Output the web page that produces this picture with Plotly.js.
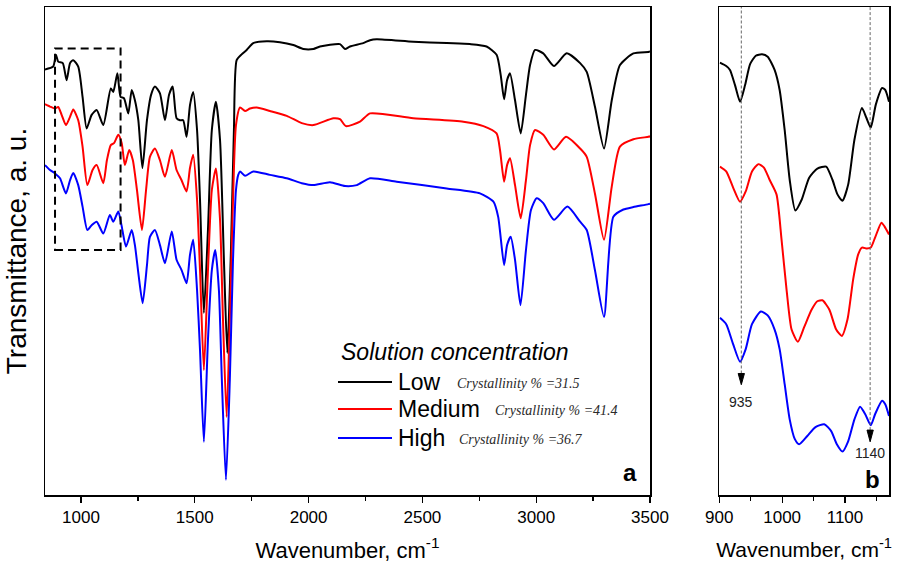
<!DOCTYPE html>
<html>
<head>
<meta charset="utf-8">
<script src="https://cdn.plot.ly/plotly-3.0.1.min.js"></script>
<style>html,body{margin:0;padding:0;background:#fff;}#chart{width:903px;height:577px;}</style>
</head>
<body>
<div id="chart"></div>
<script>
// ---- Panel a: full spectra (wavenumber, cm-1 / transmittance, a.u.) ----
const lowX = [842,878,890,900,920,937,952,966,988,1007,1025,1047,1069,1098,1131,1142,1160,1174,1189,1208,1223,1237,1252,1270,1290,1308,1325,1347,1369,1387,1403,1420,1435,1449,1464,1479,1493,1510,1523,1540,1558,1575,1593,1611,1628,1643,1659,1672,1684,1706,1728,1757,1816,1874,1933,1977,2021,2050,2138,2160,2182,2240,2270,2299,2460,2607,2709,2782,2826,2844,2859,2872,2885,2907,2932,2955,2973,2995,3031,3078,3134,3193,3222,3258,3298,3332,3368,3427,3493,3500];
const lowY = [87.2,87.8,90.2,88.8,88.5,85.0,88.5,89.1,87.8,81.6,75.1,77.9,78.9,75.8,83.3,82.6,86.4,81.6,81.3,78.2,83.0,80.9,76.8,67.0,76.8,82.0,83.7,82.3,76.8,82.0,83.7,77.2,76.8,76.8,73.4,79.9,82.6,74.8,60.5,37.3,54.3,74.8,80.6,72.7,48.2,29.1,50.2,74.8,89.1,90.3,91.2,92.6,93.0,92.8,92.2,91.4,91.4,91.9,92.4,91.4,91.9,92.6,93.2,93.4,92.9,92.6,92.4,91.9,90.2,86.1,81.1,85.0,86.4,80.9,74.1,82.0,88.1,91.2,90.5,87.9,90.5,88.5,86.7,79.6,71.0,80.9,88.1,90.5,90.8,90.9];

const medX = [842,864,886,900,915,934,952,966,988,1007,1028,1051,1069,1098,1114,1131,1145,1164,1179,1193,1212,1228,1246,1268,1286,1303,1325,1347,1369,1399,1420,1442,1464,1479,1493,1510,1523,1540,1558,1575,1593,1611,1624,1640,1654,1668,1681,1699,1721,1743,1772,1830,1904,1970,2021,2109,2138,2164,2226,2270,2460,2680,2768,2826,2841,2859,2872,2885,2907,2932,2955,2973,2995,3031,3078,3131,3193,3222,3258,3298,3332,3368,3427,3493,3500];
const medY = [80.1,79.6,79.2,79.5,77.9,75.8,77.5,79.0,76.8,71.4,63.5,66.6,67.6,63.9,68.6,71.7,72.1,73.8,72.1,67.6,70.7,68.6,62.5,54.3,62.5,69.3,71.0,68.6,65.2,70.7,66.6,64.5,62.2,67.0,69.7,60.5,46.1,25.6,46.1,62.5,66.9,56.4,35.9,16.0,35.9,60.5,75.8,79.4,78.7,79.2,79.4,78.7,77.7,76.2,75.8,77.2,77.0,75.6,76.5,78.2,77.2,76.5,75.6,74.1,70.7,64.2,67.6,69.0,63.5,56.7,64.5,71.7,74.8,73.8,70.8,73.4,71.0,69.3,61.8,52.3,63.2,71.4,72.9,73.4,73.5];

const highX = [842,864,886,908,934,952,966,988,1007,1028,1047,1069,1098,1127,1142,1164,1178,1198,1223,1237,1253,1271,1290,1303,1325,1347,1369,1399,1420,1442,1464,1479,1493,1510,1523,1540,1558,1575,1590,1606,1619,1637,1654,1668,1681,1691,1699,1721,1757,1830,1904,1970,2021,2094,2160,2212,2270,2387,2607,2753,2812,2833,2859,2872,2888,2907,2931,2955,2977,3002,3031,3078,3137,3193,3222,3258,3298,3339,3383,3427,3493,3500];
const highY = [67.6,66.6,65.9,64.9,61.8,64.5,66.0,63.5,59.1,54.3,55.3,56.0,53.6,57.4,56.0,58.1,55.3,50.9,54.3,51.2,45.1,39.3,47.1,52.9,54.3,51.2,47.5,54.0,48.2,46.1,43.4,49.2,52.3,42.0,29.7,10.9,31.8,46.1,50.2,42.0,23.6,3.1,23.6,48.2,62.5,65.6,66.3,65.4,66.3,65.6,64.9,63.9,63.5,64.1,63.3,63.5,64.9,64.2,62.8,61.8,60.1,57.0,47.1,51.2,52.9,48.2,38.9,50.2,58.4,60.8,59.8,56.4,59.1,56.0,54.3,46.1,36.5,57.0,58.5,59.0,59.6,59.7];

// ---- Panel b: zoom 900-1170 cm-1 ----
const lowZX = [901,911,917,925,933,941,949,958,968,977,988,996,1004,1012,1021,1031,1043,1056,1070,1080,1088,1096,1105,1115,1127,1134,1141,1149,1159,1164,1170];
const lowZY = [88.6,87.9,87.1,84.0,80.6,84.0,88.3,90.0,90.3,89.8,87.1,83.0,74.8,64.6,58.3,60.5,65.0,66.9,67.3,64.6,61.6,60.3,63.6,72.8,79.3,77.3,75.3,80.0,83.4,83.0,80.6];
const medZX = [901,911,922,933,942,952,962,971,980,991,999,1007,1015,1025,1035,1047,1056,1064,1075,1086,1095,1104,1113,1121,1127,1135,1141,1148,1158,1163,1170];
const medZY = [67.3,66.3,63.0,60.1,62.2,66.3,67.8,67.1,64.6,61.6,52.4,42.1,33.9,31.4,34.4,38.0,39.7,39.9,38.0,33.9,32.6,36.0,44.2,49.3,50.7,50.5,50.7,52.8,55.8,55.0,53.4];
const highZX = [901,911,922,933,942,952,966,977,988,996,1004,1012,1020,1027,1040,1053,1067,1078,1087,1096,1105,1115,1124,1132,1141,1148,1159,1164,1170];
const highZY = [36.3,35.0,30.9,27.3,29.9,35.0,37.6,36.8,33.9,29.9,22.7,15.5,11.5,10.4,12.1,13.9,14.5,13.1,10.4,8.9,11.0,15.5,18.1,16.6,14.3,16.6,19.3,18.6,16.2];

const seriesNames = ["Low", "Medium", "High"];
const crystallinity = ["31.5", "41.4", "36.7"];
const colors = ["#000000", "#ff0000", "#0000ff"];
const markedPeaks = [935, 1140];
const ticksA = [1000, 1500, 2000, 2500, 3000, 3500];
const ticksB = [900, 1000, 1100];

const SANS = "Liberation Sans, Arial, sans-serif";

const fullX = [lowX, medX, highX], fullY = [lowY, medY, highY];
const zX = [lowZX, medZX, highZX], zY = [lowZY, medZY, highZY];

const traces = [];
for (let i = 0; i < 3; i++) {
  traces.push({x: fullX[i], y: fullY[i], xaxis: 'x', yaxis: 'y', type: 'scatter', mode: 'lines',
    name: seriesNames[i], showlegend: false,
    line: {color: colors[i], width: 2, shape: 'spline', smoothing: 0.6}});
}
for (let i = 0; i < 3; i++) {
  traces.push({x: zX[i], y: zY[i], xaxis: 'x2', yaxis: 'y2', type: 'scatter', mode: 'lines',
    name: seriesNames[i], showlegend: false,
    line: {color: colors[i], width: 2, shape: 'spline', smoothing: 0.6}});
}

const L = 45, T = 7, W = 844, H = 488;
const px = v => (v - L) / W;        // pixel x -> paper
const py = v => (T + H - v) / H;    // pixel y -> paper

const axisCommon = {
  showline: true, mirror: true, linecolor: '#000', linewidth: 1.5,
  showgrid: false, zeroline: false
};

// arrow tip / tail levels (transmittance units on panel b axis)
const arrowTail = [24.9, 13.3], arrowTip = [22.6, 10.9], labelLevel = [19.0, 8.6];

const shapes = [
  // dashed box highlighting the zoomed region
  {type: 'rect', xref: 'x', yref: 'y', x0: 886, x1: 1174, y0: 50.2, y1: 91.5,
   line: {color: '#000', width: 2, dash: '8px,5px'}}
];
for (let k = 0; k < 2; k++) {
  const m = markedPeaks[k];
  shapes.push({type: 'line', xref: 'x2', yref: 'y2', x0: m, x1: m, y0: arrowTail[k], y1: 100,
    line: {color: '#666', width: 1, dash: '3px,2px'}});
  shapes.push({type: 'path', xref: 'x2', yref: 'y2',
    path: 'M' + (m - 5) + ',' + arrowTail[k] + ' L' + (m + 5) + ',' + arrowTail[k] + ' L' + m + ',' + arrowTip[k] + ' Z',
    fillcolor: '#000', line: {color: '#000', width: 1}});
}

const legendRows = [382, 409, 438];
const crystX = [455, 493, 457];
const annotations = [
  {xref: 'paper', yref: 'paper', x: px(339), y: py(352), xanchor: 'left', yanchor: 'middle',
   text: '<i>Solution concentration</i>', showarrow: false,
   font: {family: SANS, size: 23, color: '#000'}},
  {xref: 'paper', yref: 'paper', x: px(630), y: py(472), xanchor: 'center', yanchor: 'middle',
   text: '<b>a</b>', showarrow: false, font: {family: SANS, size: 24, color: '#000'}},
  {xref: 'paper', yref: 'paper', x: px(872), y: py(479), xanchor: 'center', yanchor: 'middle',
   text: '<b>b</b>', showarrow: false, font: {family: SANS, size: 24, color: '#000'}}
];
for (let k = 0; k < 2; k++) {
  annotations.push({xref: 'x2', yref: 'y2', x: markedPeaks[k], y: labelLevel[k], text: String(markedPeaks[k]),
    showarrow: false, font: {family: SANS, size: 14, color: '#222'}});
}
for (let i = 0; i < 3; i++) {
  shapes.push({type: 'line', xref: 'paper', yref: 'paper', x0: px(338), x1: px(392),
    y0: py(legendRows[i]), y1: py(legendRows[i]), line: {color: colors[i], width: 2.2}});
  annotations.push({xref: 'paper', yref: 'paper', x: px(396), y: py(legendRows[i]), xanchor: 'left', yanchor: 'middle',
    text: seriesNames[i], showarrow: false, font: {family: SANS, size: 23, color: '#000'}});
  annotations.push({xref: 'paper', yref: 'paper', x: px(crystX[i]), y: py(legendRows[i] + 1), xanchor: 'left', yanchor: 'middle',
    text: '<i>Crystallinity % =' + crystallinity[i] + '</i>', showarrow: false,
    font: {family: 'Liberation Serif, Times New Roman, serif', size: 14, color: '#2a2a2a'}});
}

const layout = {
  width: 903, height: 577,
  margin: {l: L, r: 903 - L - W, t: T, b: 577 - T - H},
  paper_bgcolor: '#fff', plot_bgcolor: '#fff',
  showlegend: false,
  font: {family: SANS, color: '#000'},
  xaxis: Object.assign({}, axisCommon, {
    domain: [0, (650 - L) / W], range: [842, 3500], anchor: 'y',
    tickmode: 'array', tickvals: ticksA, ticks: 'outside', ticklen: 6, tickwidth: 1.3, tickcolor: '#000',
    minor: {dtick: 250, tick0: 1000, ticks: 'outside', ticklen: 4, tickwidth: 1.3, tickcolor: '#000'},
    tickfont: {family: SANS, size: 17, color: '#000'},
    title: {text: 'Wavenumber, cm<sup>-1</sup>', standoff: 16, font: {family: SANS, size: 22, color: '#000'}}
  }),
  xaxis2: Object.assign({}, axisCommon, {
    domain: [(719.3 - L) / W, 1], range: [900, 1170], anchor: 'y2',
    tickmode: 'array', tickvals: ticksB, ticks: 'outside', ticklen: 6, tickwidth: 1.3, tickcolor: '#000',
    minor: {dtick: 50, tick0: 900, ticks: 'outside', ticklen: 4, tickwidth: 1.3, tickcolor: '#000'},
    tickfont: {family: SANS, size: 17, color: '#000'},
    title: {text: 'Wavenumber, cm<sup>-1</sup>', standoff: 16, font: {family: SANS, size: 21, color: '#000'}}
  }),
  yaxis: Object.assign({}, axisCommon, {
    domain: [0, 1], range: [0, 100], anchor: 'x', showticklabels: false, ticks: '',
    title: {text: 'Transmittance, a. u.', standoff: 8, font: {family: SANS, size: 28, color: '#000'}}
  }),
  yaxis2: Object.assign({}, axisCommon, {
    domain: [0, 1], range: [0, 100], anchor: 'x2', showticklabels: false, ticks: ''
  }),
  shapes: shapes,
  annotations: annotations
};

Plotly.newPlot('chart', traces, layout, {displayModeBar: false, staticPlot: true});
</script>
</body>
</html>
